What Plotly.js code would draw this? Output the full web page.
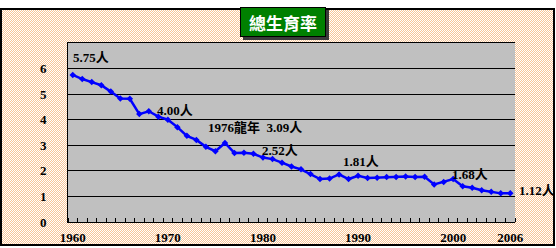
<!DOCTYPE html>
<html>
<head>
<meta charset="utf-8">
<script src="https://cdn.plot.ly/plotly-3.0.1.min.js"></script>
<style>
  html, body { margin: 0; padding: 0; background: #fff; }
  #frame {
    position: absolute; left: 0; top: 8px; width: 551px; height: 234px;
    border: 2px solid #000;
    background: repeating-conic-gradient(#f9c596 0 25%, #ffffff 0 50%) 0 0 / 2px 2px;
  }
  #chart { position: absolute; left: 0; top: 0; width: 556px; height: 248px; }
</style>
</head>
<body>
<div id="frame"></div>
<div id="chart"></div>
<script>
const years = [1960, 1961, 1962, 1963, 1964, 1965, 1966, 1967, 1968, 1969,
               1970, 1971, 1972, 1973, 1974, 1975, 1976, 1977, 1978, 1979,
               1980, 1981, 1982, 1983, 1984, 1985, 1986, 1987, 1988, 1989,
               1990, 1991, 1992, 1993, 1994, 1995, 1996, 1997, 1998, 1999,
               2000, 2001, 2002, 2003, 2004, 2005, 2006];
const tfr = [5.75, 5.59, 5.47, 5.35, 5.10, 4.83, 4.82, 4.22, 4.33, 4.12,
             4.00, 3.71, 3.37, 3.21, 2.94, 2.77, 3.09, 2.70, 2.71, 2.67,
             2.52, 2.46, 2.32, 2.17, 2.06, 1.88, 1.68, 1.70, 1.86, 1.68,
             1.81, 1.72, 1.73, 1.76, 1.76, 1.78, 1.76, 1.77, 1.47, 1.56,
             1.68, 1.40, 1.34, 1.24, 1.18, 1.12, 1.12];
const xLabelYears = [1960, 1970, 1980, 1990, 2000, 2006];
const yTicks = [0, 1, 2, 3, 4, 5, 6];
const titleText = '總生育率';
const noteYears = [1960, 1970, 1976, 1980, 1990, 2000, 2006];
const noteTexts = ['5.75人', '4.00人', '1976龍年\u00a0\u00a03.09人', '2.52人', '1.81人', '1.68人', '1.12人'];

const boundaries = years.map(y => y - 0.5).concat([years[years.length - 1] + 0.5]);
const font = "'Liberation Serif', 'Times New Roman', 'Noto Sans CJK TC', serif";

// label placement offsets (pixels) relative to the annotated point
const noteStyle = [
  {xanchor: 'left', xshift: -2, yshift: 17},
  {xanchor: 'center', xshift: 7, yshift: 9},
  {xanchor: 'center', xshift: 30, yshift: 15},
  {xanchor: 'center', xshift: 17, yshift: 7},
  {xanchor: 'center', xshift: 3, yshift: 14},
  {xanchor: 'center', xshift: 17, yshift: 5},
  {xanchor: 'left', xshift: 7, yshift: 3}
];

const annotations = noteYears.map((yr, i) => Object.assign({
  x: yr, y: tfr[years.indexOf(yr)], xref: 'x', yref: 'y',
  text: '<b>' + noteTexts[i] + '</b>', showarrow: false,
  font: {family: font, size: 13, color: '#000'}
}, noteStyle[i]));

// title box shadow + box
annotations.push({
  xref: 'paper', yref: 'paper', x: 0.481, y: 1.117, xanchor: 'center', yanchor: 'middle',
  xshift: 3, yshift: -3,
  text: '', showarrow: false, width: 84, height: 28, borderpad: 0,
  bgcolor: '#3a3a3a', bordercolor: '#3a3a3a', borderwidth: 1
});
annotations.push({
  xref: 'paper', yref: 'paper', x: 0.481, y: 1.117, xanchor: 'center', yanchor: 'middle',
  text: '<b>' + titleText + '</b>', showarrow: false, width: 84, height: 28, borderpad: 0,
  bgcolor: '#008000', bordercolor: '#000', borderwidth: 1,
  font: {family: "'Noto Sans CJK TC', sans-serif", size: 17, color: '#fff'}
});

const trace = {
  x: years, y: tfr, type: 'scatter', mode: 'lines+markers',
  line: {color: '#0000ff', width: 2.5},
  marker: {color: '#0000ff', size: 5, symbol: 'diamond'},
  hoverinfo: 'x+y', showlegend: false
};

const layout = {
  width: 556, height: 248,
  margin: {l: 68, r: 41, t: 43, b: 26, pad: 0},
  paper_bgcolor: 'rgba(0,0,0,0)',
  plot_bgcolor: '#c0c0c0',
  showlegend: false,
  xaxis: {
    range: [years[0] - 0.5, years[years.length - 1] + 0.5],
    tickmode: 'array', tickvals: xLabelYears, ticktext: xLabelYears.map(String),
    ticks: 'outside', ticklen: 3, tickcolor: 'rgba(0,0,0,0)',
    showgrid: false, zeroline: false,
    showline: true, linecolor: '#000', linewidth: 1, mirror: true,
    tickfont: {family: font, size: 13, color: '#000', weight: 'bold'},
    minor: {tickmode: 'array', tickvals: boundaries, ticks: 'inside', ticklen: 4, tickcolor: '#000', showgrid: false}
  },
  yaxis: {
    range: [0, 7],
    tickmode: 'array', tickvals: yTicks, ticktext: yTicks.map(String),
    ticks: 'outside', ticklen: 18, tickcolor: 'rgba(0,0,0,0)',
    showgrid: true, gridcolor: '#000', gridwidth: 1,
    zeroline: false,
    showline: true, linecolor: '#000', linewidth: 1,
    tickfont: {family: font, size: 13, color: '#000', weight: 'bold'}
  },
  annotations: annotations
};

Plotly.newPlot('chart', [trace], layout, {displayModeBar: false, staticPlot: true});
</script>
</body>
</html>
